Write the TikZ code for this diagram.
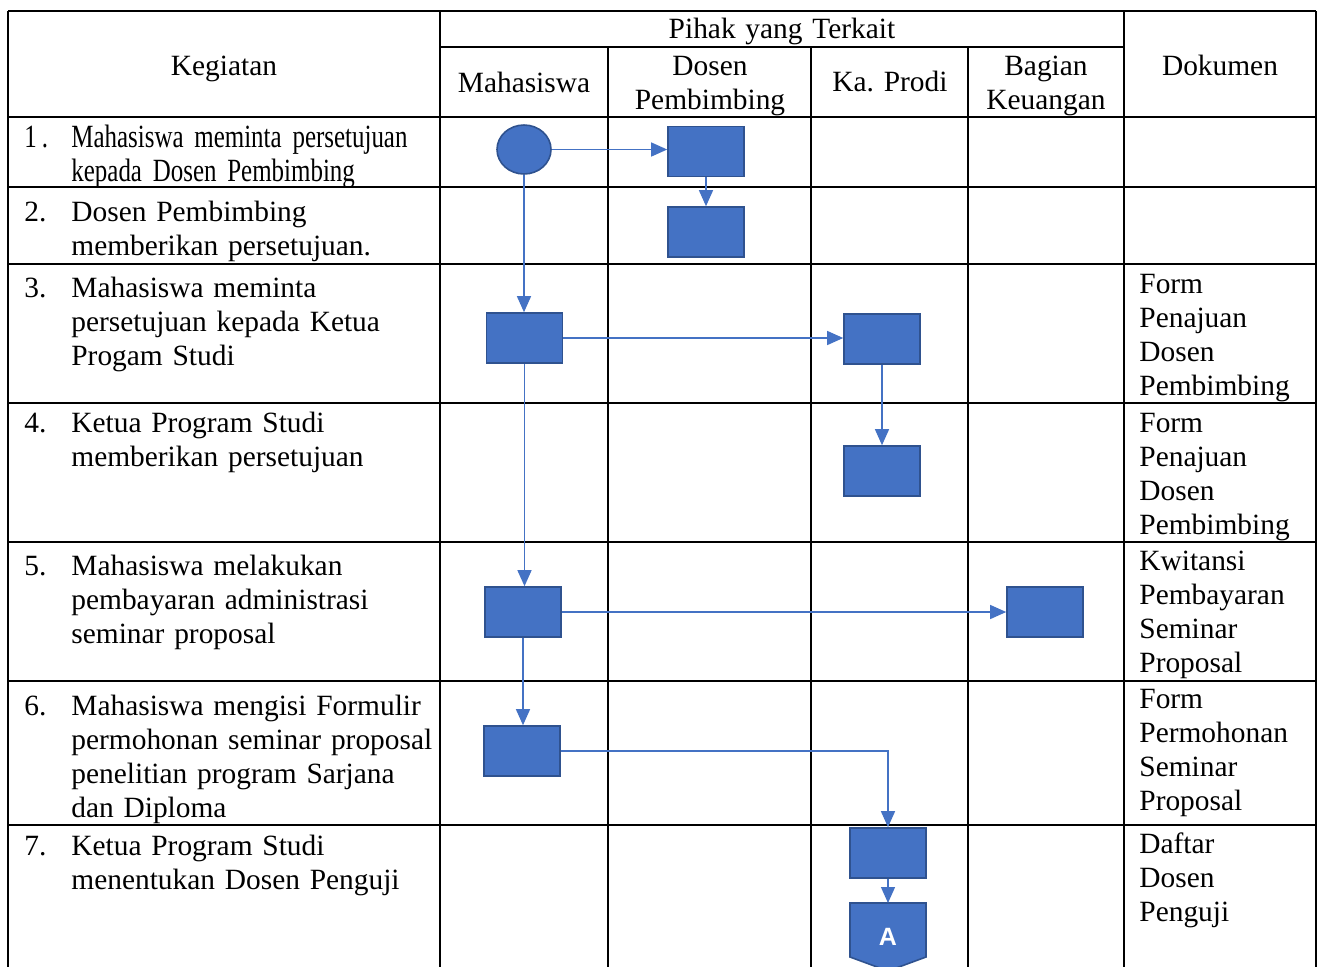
\documentclass[tikz,border=0pt]{standalone}
\usepackage{fontspec}
\setmainfont{Liberation Serif}[WordSpace=0.85]
\newfontfamily\condfont[FakeStretch=0.77,WordSpace=0.8]{Liberation Serif}
\newfontfamily\labelfont{Liberation Sans}
\usetikzlibrary{arrows.meta,shapes.geometric}
\definecolor{shapeblue}{HTML}{4472C4}
\definecolor{shapeedge}{HTML}{2F528F}
\frenchspacing

\begin{document}
\begin{tikzpicture}[x=0.5pt,y=-0.5pt,
  every node/.style={font=\fontsize{14.7}{17}\selectfont,inner sep=0pt},
  grid/.style={line width=1.1pt},
  act/.style={draw=shapeedge,fill=shapeblue,line width=0.8pt,minimum width=38pt,minimum height=25pt},
  startnode/.style={ellipse,draw=shapeedge,fill=shapeblue,line width=0.8pt,minimum width=27pt,minimum height=24.5pt},
  flow/.style={draw=shapeblue,line width=0.65pt,-{Triangle[length=8pt,width=7pt]}},
  head/.style={anchor=base,align=center,text width=95pt},
  num/.style={anchor=base west},
  txt/.style={anchor=base west,align=left,text width=200pt},
  doc/.style={anchor=base west,align=left,text width=95pt},
  cond/.style={font=\condfont\fontsize{16.2}{17}\selectfont}]
\clip (0,0) rectangle (1324,966);
% table
\draw[grid] (8,11) -- (1316,11);
\draw[grid] (440,47) -- (1124,47);
\foreach \y in {117,187,264,403,542,681,825}
  \draw[grid] (8,\y) -- (1316,\y);
\foreach \x in {8,440,1124,1316}
  \draw[grid] (\x,11) -- (\x,975);
\foreach \x in {608,811,968}
  \draw[grid] (\x,47) -- (\x,975);
% header
\node[head] (hkeg) at (224,75) {Kegiatan};
\node[head,text width=300pt] (hpihak) at (782,38) {Pihak yang Terkait};
\node[head] (hmhs) at (524,92) {Mahasiswa};
\node[head] (hdosen) at (710,75) {Dosen\\Pembimbing};
\node[head] (hkaprodi) at (890,91) {Ka. Prodi};
\node[head] (hbagian) at (1046,75) {Bagian\\Keuangan};
\node[head] (hdok) at (1220,75) {Dokumen};
% kegiatan
\node[num,cond] (n1) at (24,147) {1 .};
\node[txt,cond] (k1) at (71,147) {Mahasiswa meminta persetujuan\\kepada Dosen Pembimbing};
\node[num] (n2) at (24,221) {2.};
\node[txt] (k2) at (71,221) {Dosen Pembimbing\\memberikan persetujuan.};
\node[num] (n3) at (24,297) {3.};
\node[txt] (k3) at (71,297) {Mahasiswa meminta\\persetujuan kepada Ketua\\Progam Studi};
\node[num] (n4) at (24,432) {4.};
\node[txt] (k4) at (71,432) {Ketua Program Studi\\memberikan persetujuan};
\node[num] (n5) at (24,575) {5.};
\node[txt] (k5) at (71,575) {Mahasiswa melakukan\\pembayaran administrasi\\seminar proposal};
\node[num] (n6) at (24,715) {6.};
\node[txt] (k6) at (71,715) {Mahasiswa mengisi Formulir\\permohonan seminar proposal\\penelitian program Sarjana\\dan Diploma};
\node[num] (n7) at (24,855) {7.};
\node[txt] (k7) at (71,855) {Ketua Program Studi\\menentukan Dosen Penguji};
% dokumen
\node[doc] (d3) at (1139,293) {Form\\Penajuan\\Dosen\\Pembimbing};
\node[doc] (d4) at (1139,432) {Form\\Penajuan\\Dosen\\Pembimbing};
\node[doc] (d5) at (1139,570) {Kwitansi\\Pembayaran\\Seminar\\Proposal};
\node[doc] (d6) at (1139,708) {Form\\Permohonan\\Seminar\\Proposal};
\node[doc] (d7) at (1139,853) {Daftar\\Dosen\\Penguji};
% flow
\node[startnode] (start) at (524,149.5) {};
\node[act] (dp1) at (706,151.5) {};
\node[act] (dp2) at (706,232) {};
\node[act] (mhs3) at (524.5,338) {};
\node[act] (kp3) at (882,339) {};
\node[act] (kp4) at (882,471) {};
\node[act] (mhs5) at (523,612) {};
\node[act] (bk5) at (1045,612) {};
\node[act] (mhs6) at (522,751) {};
\node[act] (kp7) at (888,853) {};
\filldraw[draw=shapeedge,fill=shapeblue,line width=0.8pt] (850,903) -- (926,903) -- (926,957) -- (888,971) -- (850,957) -- cycle;
\coordinate (offtop) at (888,903);
\node[font=\labelfont\bfseries\fontsize{12.5}{14}\selectfont,text=white] (offA) at (888,937) {A};
\draw[flow] (start.east) -- (start.east -| dp1.west);
\draw[flow] (dp1) -- (dp2);
\draw[flow] (start.south) -- (start.south |- mhs3.north);
\draw[flow] (mhs3.east) -- (mhs3.east -| kp3.west);
\draw[flow] (kp3) -- (kp4);
\draw[flow] (mhs3.south) -- (mhs3.south |- mhs5.north);
\draw[flow] (mhs5.east) -- (mhs5.east -| bk5.west);
\draw[flow] (mhs5.south) -- (mhs5.south |- mhs6.north);
\draw[flow] (mhs6.east) -| (kp7.north);
\draw[flow] (kp7) -- (offtop);
\end{tikzpicture}
\end{document}
